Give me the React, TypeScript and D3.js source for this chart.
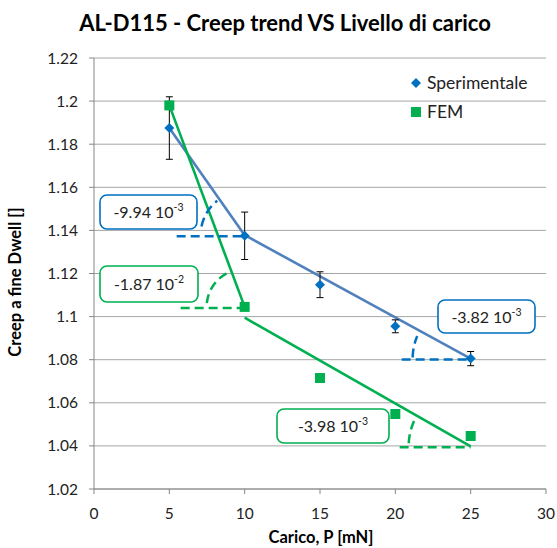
import React from "react";
import * as d3 from "d3";

// Applied load (mN)
const loads = [5, 10, 15, 20, 25];
// Experimental creep at end of dwell, with error bar half-widths
const expValues = [1.1875, 1.1375, 1.1148, 1.0955, 1.0805];
const expErrors = [0.0145, 0.011, 0.006, 0.003, 0.0033];
// FEM creep at end of dwell
const femValues = [1.198, 1.1045, 1.0715, 1.0548, 1.0446];

const xTicks = [0, 5, 10, 15, 20, 25, 30];
const yTicks = [1.02, 1.04, 1.06, 1.08, 1.1, 1.12, 1.14, 1.16, 1.18, 1.2, 1.22];

// Trend segments: start point and slope (value per mN)
const trendSeries = ["exp", "exp", "fem", "fem"];
const trendX0 = [5, 10, 5, 10];
const trendY0 = [1.1875, 1.1378, 1.198, 1.0995];
const trendX1 = [10, 25, 10, 25];
const trendSlopeMantissa = ["-9.94", "-3.82", "-1.87", "-3.98"];
const trendSlopeExp = ["-3", "-3", "-2", "-3"];

const W = 557;
const H = 548;
const FONT = "Lato, 'Open Sans', 'DejaVu Sans', sans-serif";
const BLUE_LINE = "#4F81BD";
const BLUE = "#0070C0";
const GREEN = "#00B050";

// Layout of slope markers and their callouts
const angleStyle = [
  { run: 68, r: 44, a0: 0.2, a1Gap: 0.06, box: [100, 195, 97, 34] },
  { run: 69, r: 58, a0: 0.02, a1Gap: 0.1, box: [438, 300, 97, 33] },
  { run: 64, r: 38, a0: 0.1, a1Gap: 0.02, box: [100, 266, 98, 36] },
  { run: 71, r: 62, a0: 0.05, a1Gap: 0.06, box: [277, 409, 112, 34] },
];

const diamondPath = "M0,-5L5,0L0,5L-5,0Z";

export default function App() {
  const x = d3.scaleLinear().domain([0, 30]).range([94, 546]);
  const y = d3.scaleLinear().domain([1.02, 1.22]).range([489, 58]);

  const trends = trendX0.map((x0, i) => {
    const slope = parseFloat(trendSlopeMantissa[i]) * Math.pow(10, parseFloat(trendSlopeExp[i]));
    const y1 = trendY0[i] + slope * (trendX1[i] - x0);
    return { x0, y0: trendY0[i], x1: trendX1[i], y1, series: trendSeries[i] };
  });

  const line = d3.line<[number, number]>();

  return (
    <svg width={W} height={H} style={{ position: "absolute", left: 0, top: 0, background: "#fff" }}>
      <rect width={W} height={H} fill="#fff" />
      <text x={285} y={31} textAnchor="middle" fontFamily={FONT} fontWeight="bold" fontSize={22} fill="#000">
        AL-D115 - Creep trend VS Livello di carico
      </text>

      {/* horizontal gridlines */}
      {yTicks.map((t) => (
        <line key={"g" + t} x1={x(0)} x2={x(30)} y1={y(t)} y2={y(t)} stroke="#A6A6A6" strokeWidth={1} />
      ))}

      {/* axes */}
      <line x1={x(0)} x2={x(0)} y1={y(1.22)} y2={y(1.02)} stroke="#868686" />
      <line x1={x(0)} x2={x(30)} y1={y(1.02)} y2={y(1.02)} stroke="#868686" />
      {yTicks.map((t) => (
        <g key={"yt" + t}>
          <line x1={x(0) - 5} x2={x(0)} y1={y(t)} y2={y(t)} stroke="#868686" />
          <text x={78} y={y(t) + 5.5} textAnchor="end" fontFamily={FONT} fontSize={15.5} fill="#222">
            {String(+t.toFixed(2))}
          </text>
        </g>
      ))}
      {xTicks.map((t) => (
        <g key={"xt" + t}>
          <line x1={x(t)} x2={x(t)} y1={y(1.02)} y2={y(1.02) + 5} stroke="#868686" />
          <text x={x(t)} y={519} textAnchor="middle" fontFamily={FONT} fontSize={15.5} fill="#222">
            {t}
          </text>
        </g>
      ))}
      <text x={321} y={543} textAnchor="middle" fontFamily={FONT} fontWeight="bold" fontSize={16.5} fill="#000">
        Carico, P [mN]
      </text>
      <text
        transform={`translate(21,282) rotate(-90)`}
        textAnchor="middle"
        fontFamily={FONT}
        fontWeight="bold"
        fontSize={16.5}
        fill="#000"
      >
        Creep a fine Dwell []
      </text>

      {/* trend lines */}
      {trends.map((t, i) => (
        <path
          key={"tr" + i}
          d={line([[x(t.x0), y(t.y0)], [x(t.x1), y(t.y1)]]) || ""}
          stroke={t.series === "exp" ? BLUE_LINE : GREEN}
          strokeWidth={2.6}
          fill="none"
        />
      ))}

      {/* error bars */}
      {loads.map((l, i) => {
        const cx = x(l);
        const top = y(expValues[i] + expErrors[i]);
        const bot = y(expValues[i] - expErrors[i]);
        return (
          <g key={"eb" + i} stroke="#000" strokeWidth={1}>
            <line x1={cx} x2={cx} y1={top} y2={bot} />
            <line x1={cx - 3.5} x2={cx + 3.5} y1={top} y2={top} />
            <line x1={cx - 3.5} x2={cx + 3.5} y1={bot} y2={bot} />
          </g>
        );
      })}

      {/* markers */}
      {loads.map((l, i) => (
        <path key={"d" + i} d={diamondPath} transform={`translate(${x(l)},${y(expValues[i])})`} fill={BLUE} />
      ))}
      {loads.map((l, i) => (
        <rect key={"s" + i} x={x(l) - 5} y={y(femValues[i]) - 5} width={10} height={10} fill={GREEN} />
      ))}

      {/* slope markers and callouts */}
      {trends.map((t, i) => {
        const st = angleStyle[i];
        const color = t.series === "exp" ? BLUE : GREEN;
        const vx = x(t.x1);
        const vy = y(t.y1);
        const theta = Math.atan2(vy - y(t.y0), vx - x(t.x0));
        const end = theta - st.a1Gap;
        const angles = d3.range(st.a0, end, 0.01).concat([end]);
        const arcPts = angles.map((a) => [vx - st.r * Math.cos(a), vy - st.r * Math.sin(a)] as [number, number]);
        const [bx, by, bw, bh] = st.box;
        return (
          <g key={"ang" + i}>
            <line
              x1={vx - st.run}
              x2={vx}
              y1={vy + 1}
              y2={vy + 1}
              stroke={color}
              strokeWidth={2.5}
              strokeDasharray="9,5"
            />
            <path d={line(arcPts) || ""} stroke={color} strokeWidth={2.5} fill="none" strokeDasharray="9,5" />
            <rect x={bx} y={by} width={bw} height={bh} rx={7} fill="#fff" stroke={color} strokeWidth={1.6} />
            <text x={bx + bw / 2} y={by + bh / 2 + 6} textAnchor="middle" fontFamily={FONT} fontSize={16} fill="#222">
              {trendSlopeMantissa[i]} 10
              <tspan fontSize={10.5} dy={-7}>
                {trendSlopeExp[i]}
              </tspan>
            </text>
          </g>
        );
      })}

      {/* legend */}
      <path d={diamondPath} transform="translate(416,83)" fill={BLUE} />
      <text x={427} y={89} fontFamily={FONT} fontSize={17.5} fill="#222">
        Sperimentale
      </text>
      <rect x={411} y={107} width={10} height={10} fill={GREEN} />
      <text x={427} y={118} fontFamily={FONT} fontSize={17.5} fill="#222">
        FEM
      </text>
    </svg>
  );
}
